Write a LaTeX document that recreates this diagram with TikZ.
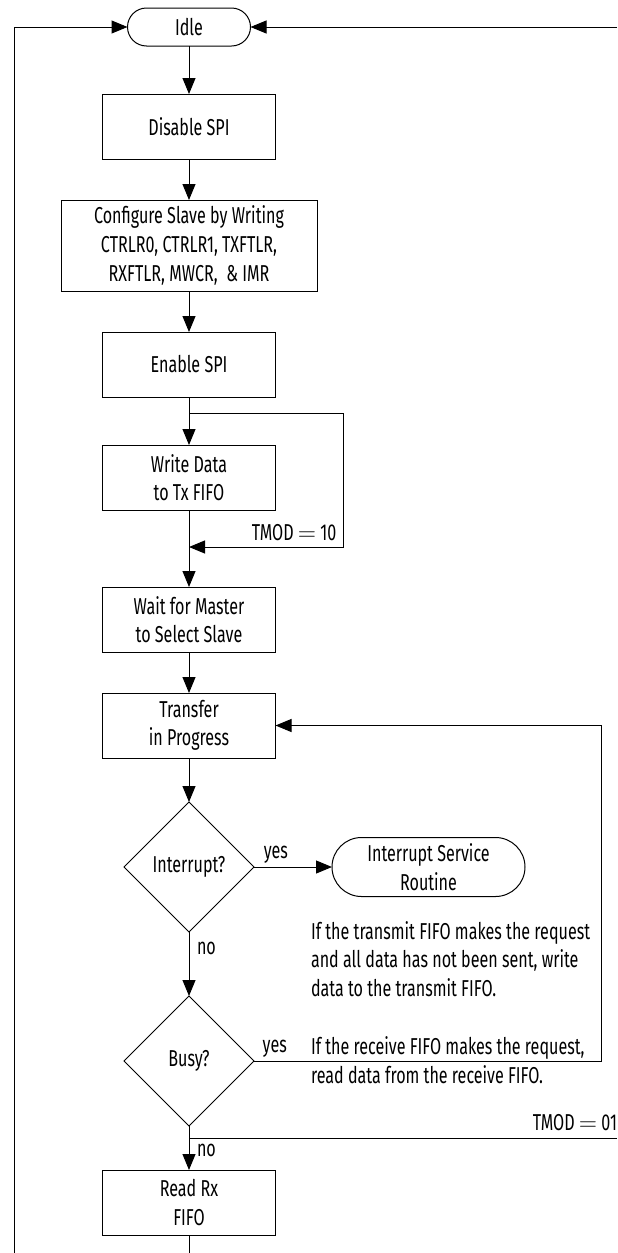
\documentclass[tikz,border=0pt]{standalone}
\usepackage{fontspec}
\setmainfont[FakeStretch=0.70]{Fira Sans}
\usetikzlibrary{positioning,shapes.geometric,arrows.meta}

\begin{document}
\begin{tikzpicture}[
  x=0.5pt, y=-0.5pt, line width=0.5pt,
  every node/.style={font=\fontsize{11.5}{14.3}\selectfont, outer sep=0pt},
  proc/.style={rectangle, draw, minimum width=86.5pt, minimum height=32.5pt,
               align=center, inner sep=2pt},
  pill/.style={rectangle, rounded corners=9.5pt, draw, minimum width=61.5pt,
               minimum height=19pt, align=center, inner sep=1pt},
  dec/.style={diamond, draw, minimum width=65pt, minimum height=65pt,
              align=center, inner sep=0pt},
  note/.style={align=left, inner sep=0pt},
  lbl/.style={inner sep=4pt},
  arr/.style={-{Triangle[length=8pt, width=6.5pt]}}
]
\useasboundingbox (0,0) rectangle (617,1253);

\node[pill]                                (I)   at (189,27) {Idle};
\node[proc, below=24pt of I]               (D)   {Disable SPI};
\node[proc, minimum width=128pt, minimum height=45.5pt,
      below=20.5pt of D]                   (C)   {Configure Slave by Writing\\CTRLR0, CTRLR1, TXFTLR,\\RXFTLR, MWCR, \ \& IMR};
\node[proc, below=20.5pt of C]             (E)   {Enable SPI};
\node[proc, below=24pt of E]               (W)   {Write Data\\to Tx FIFO};
\node[proc, below=38.5pt of W]             (M)   {Wait for Master\\to Select Slave};
\node[proc, below=20.5pt of M]             (TP)  {Transfer\\in Progress};
\node[dec, below=22pt of TP]               (INT) {Interrupt?};
\node[pill, rounded corners=14.75pt, minimum width=96.5pt, minimum height=29.5pt,
      right=39pt of INT]                   (ISR) {Interrupt Service\\Routine};
\node[dec, below=32pt of INT]              (B)   {Busy?};
\node[proc, below=22pt of B]               (RX)  {Read Rx\\FIFO};

\node[note, anchor=west] (N1) at (311,959)  {If the transmit FIFO makes the request\\and all data has not been sent, write\\data to the transmit FIFO.};
\node[note, anchor=west] (N2) at (311,1060) {If the receive FIFO makes the request,\\read data from the receive FIFO.};

\coordinate[below=8pt of E]    (split);
\coordinate[below=18.5pt of W] (join);
\coordinate[below=6pt of B]    (j01);
\coordinate (rtop) at (617,27);
\coordinate (lbot) at (14,1253);
\coordinate (bot)  at (189,1253);

\draw[arr] (I)  -- (D);
\draw[arr] (D)  -- (C);
\draw[arr] (C)  -- (E);
\draw[arr] (E)  -- (W);
\draw[arr] (split) -- ++(154,0) |- (join)
  node[pos=0.5, anchor=south east, inner sep=3.3pt] {TMOD $=$ 10};
\draw[arr] (W)  -- (M);
\draw[arr] (M)  -- (TP);
\draw[arr] (TP) -- (INT);
\draw[arr] (INT) -- node[lbl, pos=0.28, above, inner sep=2pt] {yes} (ISR);
\draw[arr] (INT) -- node[lbl, pos=0.25, right] {no} (B);
\draw[arr] (B.east) -- node[pos=0.06, above, inner sep=2pt] {yes} ++(347,0) |- (TP.east);
\draw[arr] (B)  -- node[lbl, pos=0.55, right] {no} (RX);
\draw (j01 -| rtop) -- node[pos=0, anchor=south east, inner sep=0pt, yshift=3.75pt] {TMOD $=$ 01} (j01);
\draw (RX) -- (bot);
\draw[arr] (rtop) -- (I);
\draw[arr] (lbot) |- (I);

\end{tikzpicture}
\end{document}
